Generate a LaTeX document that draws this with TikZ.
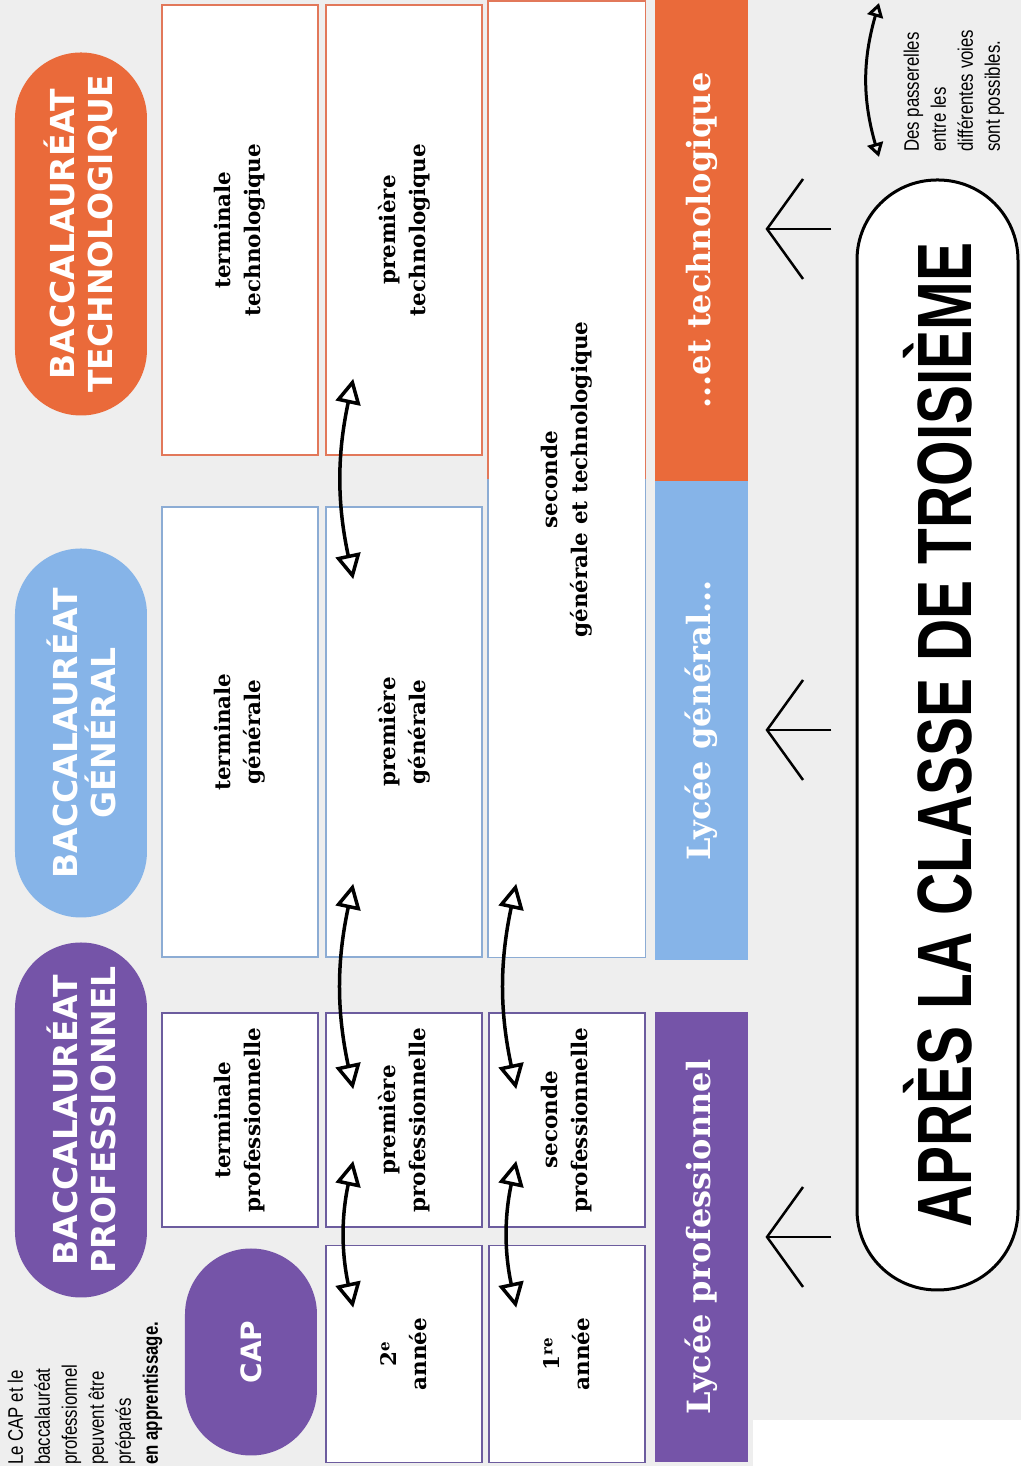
\documentclass[tikz,border=0pt]{standalone}
\usepackage{fontspec}
\setmainfont{DejaVu Serif}
\newfontfamily\headfont{DejaVu Sans}
\newfontfamily\titlefont{Liberation Sans}[FakeStretch=0.76]
\newfontfamily\notefont{Liberation Sans}[FakeStretch=0.8]
\usetikzlibrary{arrows.meta, calc}

\definecolor{techorange}{RGB}{234,106,58}
\definecolor{genblue}{RGB}{134,180,232}
\definecolor{propurple}{RGB}{117,84,168}
\definecolor{techline}{RGB}{226,120,90}
\definecolor{genline}{RGB}{140,172,212}
\definecolor{proline}{RGB}{108,92,158}
\definecolor{paper}{RGB}{238,238,238}

\tikzset{
    pill/.style={
        rectangle,
        rounded corners=66pt,
        minimum height=132pt,
        inner sep=0pt,
        align=center,
        text=white,
        font=\headfont\bfseries\fontsize{33}{38}\selectfont
    },
    yearbox/.style={
        rectangle,
        fill=white,
        line width=1.5pt,
        minimum height=156pt,
        inner sep=0pt,
        align=center,
        font=\bfseries\fontsize{21.5}{30}\selectfont
    },
    lyceebar/.style={
        rectangle,
        minimum height=93pt,
        inner sep=0pt,
        text=white,
        font=\bfseries\fontsize{32}{36}\selectfont
    },
    titlebox/.style={
        rectangle,
        draw=black,
        line width=3pt,
        fill=white,
        rounded corners=80pt,
        minimum height=161pt,
        inner sep=0pt,
        font=\titlefont\bfseries\fontsize{77}{80}\selectfont
    },
    note/.style={
        inner sep=0pt,
        align=left,
        font=\notefont\fontsize{21}{27}\selectfont
    },
    passerelle/.style={
        {Triangle[open,length=25pt,width=25pt]}-{Triangle[open,length=25pt,width=25pt]},
        line width=3.5pt,
        bend left=12
    },
    smallpasserelle/.style={
        {Triangle[open,length=14pt,width=16pt]}-{Triangle[open,length=14pt,width=16pt]},
        line width=3pt,
        bend left=16
    },
    uparrow/.style={
        -{Straight Barb[length=36pt,width=100pt]},
        line width=2.5pt
    }
}

\begin{document}
\begin{tikzpicture}[x=1pt, y=1pt, rotate=90, transform shape]

    % Page
    \useasboundingbox (0,0) rectangle (1466,1021);
    \fill[paper] (0,0) rectangle (1466,1021);
    \fill[white] (0,0) rectangle (46,268);

    % Headings
    \node[pill, fill=techorange, minimum width=363pt] (bactech) at (1232,940) {BACCALAURÉAT\\TECHNOLOGIQUE};
    \node[pill, fill=genblue, minimum width=369pt] (bacgen) at (733,940) {BACCALAURÉAT\\GÉNÉRAL};
    \node[pill, fill=propurple, minimum width=355pt] (bacpro) at (346,940) {BACCALAURÉAT\\PROFESSIONNEL};
    \node[pill, fill=propurple, minimum width=207pt, font=\headfont\bfseries\fontsize{28}{32}\selectfont] (cap) at (114,770) {CAP};

    % Apprenticeship note
    \node[note, anchor=west] (apprent) at (1,936) {Le CAP et le\\baccalauréat\\professionnel\\peuvent être\\préparés\\\textbf{en apprentissage.}};

    % Terminale
    \node[yearbox, draw=techline, minimum width=450pt] (termtech) at (1236,781) {terminale\\technologique};
    \node[yearbox, draw=genline, minimum width=450pt] (termgen) at (734,781) {terminale\\générale};
    \node[yearbox, draw=proline, minimum width=214pt] (termpro) at (346,781) {terminale\\professionnelle};

    % Premiere
    \node[yearbox, draw=techline, minimum width=450pt] (premtech) at (1236,617) {première\\technologique};
    \node[yearbox, draw=genline, minimum width=450pt] (premgen) at (734,617) {première\\générale};
    \node[yearbox, draw=proline, minimum width=214pt] (prempro) at (346,617) {première\\professionnelle};
    \node[yearbox, draw=proline, minimum width=217pt] (annee2) at (112,617) {2\textsuperscript{e}\\année};

    % Seconde
    \node[yearbox, minimum width=955pt] (secgt) at (986.5,454) {seconde\\générale et technologique};
    \draw[techline, line width=1.5pt] (secgt.north) -- (secgt.north east) -- (secgt.south east) -- (secgt.south);
    \draw[genline, line width=1.5pt] (secgt.north) -- (secgt.north west) -- (secgt.south west) -- (secgt.south);
    \node[yearbox, draw=proline, minimum width=214pt] (secpro) at (346,454) {seconde\\professionnelle};
    \node[yearbox, draw=proline, minimum width=217pt] (annee1) at (112,454) {1\textsuperscript{re}\\année};

    % Lycees
    \node[lyceebar, fill=techorange, minimum width=481pt] (ltech) at (1225.5,319.5) {...et technologique};
    \node[lyceebar, fill=genblue, minimum width=479pt] (lgen) at (745.5,319.5) {Lycée général...};
    \node[lyceebar, fill=propurple, minimum width=450pt] (lpro) at (229,319.5) {Lycée professionnel};

    % After troisieme
    \node[titlebox, minimum width=1110pt] (troisieme) at (731,83.5) {APRÈS LA CLASSE DE TROISIÈME};
    \draw[uparrow] ($(troisieme.north)+(506,24)$) -- ++(0,66);
    \draw[uparrow] ($(troisieme.north)+(5,24)$) -- ++(0,66);
    \draw[uparrow] ($(troisieme.north)+(-502,24)$) -- ++(0,66);

    % Passerelles
    \draw[passerelle] ($(annee2.north east)+(-63,-28)$) to ($(prempro.north west)+(67,-28)$);
    \draw[passerelle] ($(annee1.north east)+(-63,-28)$) to ($(secpro.north west)+(67,-28)$);
    \draw[passerelle] ($(prempro.north east)+(-77,-28)$) to ($(premgen.north west)+(74,-28)$);
    \draw[passerelle] ($(secpro.north east)+(-77,-28)$) to ($(secgt.north west)+(74,-28)$);
    \draw[passerelle] ($(premgen.north east)+(-73,-28)$) to ($(premtech.north west)+(77,-28)$);

    % Legend
    \coordinate (lega) at (1309,142);
    \coordinate (legb) at (1463,142);
    \draw[smallpasserelle] (lega) to (legb);
    \node[note, anchor=west] (legende) at (1314,67) {Des passerelles\\entre les\\différentes voies\\sont possibles.};

\end{tikzpicture}
\end{document}
